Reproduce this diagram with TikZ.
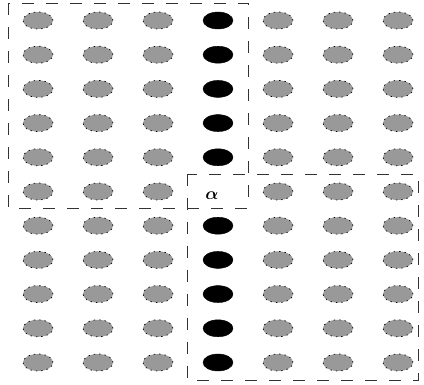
\documentclass[tikz,border=0pt]{standalone}
\usepackage{bm}
\usetikzlibrary{shapes.geometric}
\definecolor{dotgray}{RGB}{153,153,153}
\definecolor{linegray}{RGB}{50,50,50}
\begin{document}
\begin{tikzpicture}[x=1pt,y=-1pt,
  graydot/.style={ellipse,minimum width=30pt,minimum height=17pt,inner sep=0pt,
    fill=dotgray,draw=black,line width=0.7pt,dash pattern=on 1.4pt off 4pt},
  blackdot/.style={ellipse,minimum width=30pt,minimum height=17pt,inner sep=0pt,
    fill=black,draw=black},
  region/.style={draw=linegray,line width=0.8pt,dash pattern=on 12pt off 12pt},
  lbl/.style={font=\fontsize{19}{19}\selectfont,inner sep=0pt}]
\useasboundingbox (0,0) rectangle (424,385);
\foreach \cx/\ci in {38/1,98/2,158/3,278/5,338/6,398/7}{
  \foreach \ry/\rj in {20.5/1,54.7/2,88.9/3,123.1/4,157.3/5,191.5/6,225.7/7,259.9/8,294.1/9,328.3/10,362.5/11}{
    \node[graydot] (g\ci-\rj) at (\cx,\ry) {};
  }
}
\foreach \ry/\rj in {20.5/1,54.7/2,88.9/3,123.1/4,157.3/5,225.7/7,259.9/8,294.1/9,328.3/10,362.5/11}{
  \node[blackdot] (b\rj) at (218,\ry) {};
}
\draw[region] (8,3) rectangle (248,208);
\draw[region] (187,174) rectangle (418,380);
\node[lbl] (lab) at (212,196) {$\bm{\alpha}$};
\end{tikzpicture}
\end{document}
